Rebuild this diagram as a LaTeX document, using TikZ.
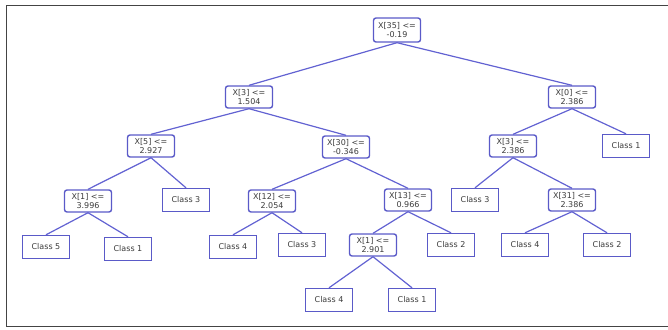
\documentclass[tikz,border=0pt]{standalone}
\usepackage{fontspec}
\setmainfont{DejaVu Sans}
\definecolor{edgeblue}{HTML}{6262D2}
\definecolor{boxblue}{HTML}{5A5AC8}
\definecolor{txtgray}{HTML}{3C3C3C}
\definecolor{framegray}{HTML}{444444}
\begin{document}
\begin{tikzpicture}[x=1pt,y=-1pt,
  base/.style={draw=boxblue,line width=1.4pt,fill=white,text=txtgray,
    font=\fontsize{8}{8.8}\selectfont,align=center,inner sep=0pt,
    minimum width=47pt},
  split/.style={base,rounded corners=2.5pt,minimum height=22pt},
  leaf/.style={base,minimum height=23pt},
  edge/.style={draw=edgeblue,line width=1.2pt}]
\useasboundingbox (0,0) rectangle (668,329);
\draw[framegray,line width=1pt] (670,6) -- (6,6) -- (6,326) -- (670,326);
% nodes
\node[split,minimum height=24pt] (r) at (397,30) {X[35] <=\\-0.19};
\node[split] (a) at (249,97) {X[3] <=\\1.504};
\node[split] (b) at (572,97) {X[0] <=\\2.386};
\node[split] (a1) at (151,146) {X[5] <=\\2.927};
\node[split] (a2) at (346,147) {X[30] <=\\-0.346};
\node[split] (b1) at (513,146) {X[3] <=\\2.386};
\node[leaf] (b2) at (626,146) {Class 1};
\node[split] (a11) at (88,201) {X[1] <=\\3.996};
\node[leaf] (a12) at (186,200) {Class 3};
\node[split] (a21) at (272,201) {X[12] <=\\2.054};
\node[split] (a22) at (408,200) {X[13] <=\\0.966};
\node[leaf] (b11) at (475,200) {Class 3};
\node[split] (b12) at (572,200) {X[31] <=\\2.386};
\node[leaf] (a111) at (46,247) {Class 5};
\node[leaf] (a112) at (128,249) {Class 1};
\node[leaf] (a211) at (233,247) {Class 4};
\node[leaf] (a212) at (302,245) {Class 3};
\node[split] (a221) at (373,245) {X[1] <=\\2.901};
\node[leaf] (a222) at (451,245) {Class 2};
\node[leaf] (b121) at (525,245) {Class 4};
\node[leaf] (b122) at (607,245) {Class 2};
\node[leaf] (a2211) at (329,300) {Class 4};
\node[leaf] (a2212) at (412,300) {Class 1};
% edges
\foreach \p/\c in {r/a,r/b,a/a1,a/a2,b/b1,b/b2,a1/a11,a1/a12,a2/a21,a2/a22,
  b1/b11,b1/b12,a11/a111,a11/a112,a21/a211,a21/a212,a22/a221,a22/a222,
  b12/b121,b12/b122,a221/a2211,a221/a2212}
  \draw[edge] (\p.south) -- (\c.north);
\end{tikzpicture}
\end{document}
